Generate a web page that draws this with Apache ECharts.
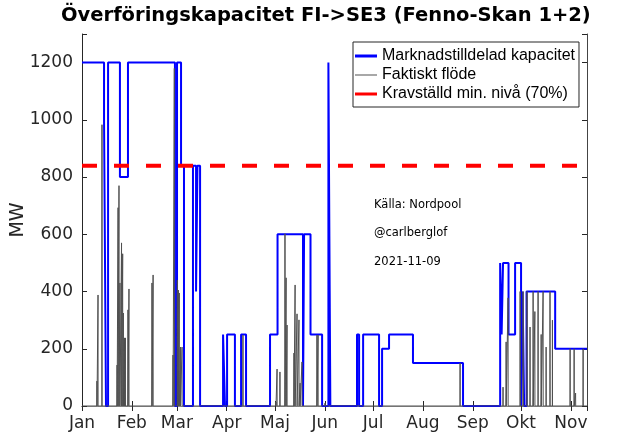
<!DOCTYPE html>
<html>
<head>
<meta charset="utf-8">
<script src="https://cdn.jsdelivr.net/npm/echarts/dist/echarts.min.js"></script>
<style>
  html, body { margin: 0; padding: 0; background: #fff; }
  #main { width: 624px; height: 448px; }
</style>
</head>
<body>
<div id="main"></div>
<script>
// månadsetiketter på x-axeln
var monthLabels = ['Jan', 'Feb', 'Mar', 'Apr', 'Maj', 'Jun', 'Jul', 'Aug', 'Sep', 'Okt', 'Nov', 'Dec'];

// marknadstilldelad kapacitet (MW), gäller från tidpunkten till nästa
var capTimes = [
    '2021-01-01 00:00', '2021-01-14 17:00', '2021-01-15 22:00', '2021-01-17 05:00',
    '2021-01-24 14:00', '2021-01-29 14:00', '2021-02-27 19:00', '2021-03-01 02:00',
    '2021-03-03 14:00', '2021-03-05 10:00', '2021-03-11 00:00', '2021-03-12 22:00',
    '2021-03-13 19:00', '2021-03-15 10:00', '2021-03-29 17:00', '2021-03-30 22:00',
    '2021-04-01 05:00', '2021-04-06 02:00', '2021-04-09 22:00', '2021-04-13 00:00',
    '2021-04-27 22:00', '2021-05-02 14:00', '2021-05-18 10:00', '2021-05-19 02:00',
    '2021-05-23 02:00', '2021-05-30 07:00', '2021-06-03 05:00', '2021-06-04 10:00',
    '2021-06-21 00:00', '2021-06-22 07:00', '2021-06-24 19:00', '2021-07-04 17:00',
    '2021-07-06 14:00', '2021-07-10 22:00', '2021-07-25 19:00', '2021-08-25 22:00',
    '2021-09-18 00:00', '2021-09-18 22:00', '2021-09-19 19:00', '2021-09-23 05:00',
    '2021-09-27 07:00', '2021-10-01 00:00', '2021-10-01 22:00', '2021-10-02 22:00',
    '2021-10-04 10:00', '2021-10-22 05:00', '2021-11-11 00:00'
];
var capValues = [
    1200, 1000, 0, 1200,
    800, 1200, 0, 1200,
    840, 0, 840, 400,
    840, 0, 250, 0,
    250, 0, 250, 0,
    250, 600, 0, 600,
    250, 0, 1200, 0,
    250, 0, 250, 0,
    200, 250, 150, 0,
    500, 250, 500, 250,
    500, 0, 400, 0,
    400, 200, 200
];

// faktiskt flöde (MW), toppar
var flowTimes = [
    '2021-01-10 07:00', '2021-01-10 23:00', '2021-01-13 10:00', '2021-01-22 19:00',
    '2021-01-23 10:00', '2021-01-24 00:00', '2021-01-24 14:00', '2021-01-25 14:00',
    '2021-01-26 07:00', '2021-01-26 17:00', '2021-01-27 10:00', '2021-01-28 00:00',
    '2021-01-29 14:00', '2021-01-30 05:00', '2021-02-13 12:00', '2021-02-14 05:00',
    '2021-02-26 14:00', '2021-02-27 10:00', '2021-03-01 07:00', '2021-03-01 22:00',
    '2021-03-02 12:00', '2021-03-03 05:00', '2021-03-04 05:00', '2021-04-11 02:00',
    '2021-05-01 14:00', '2021-05-02 07:00', '2021-05-04 02:00', '2021-05-07 05:00',
    '2021-05-07 22:00', '2021-05-08 12:00', '2021-05-12 19:00', '2021-05-13 12:00',
    '2021-05-14 17:00', '2021-05-15 22:00', '2021-05-16 14:00', '2021-05-17 19:00',
    '2021-05-27 02:00', '2021-05-27 19:00', '2021-06-01 02:00', '2021-08-24 02:00',
    '2021-09-19 19:00', '2021-09-21 17:00', '2021-09-22 22:00', '2021-09-30 10:00',
    '2021-10-02 06:00', '2021-10-04 18:00', '2021-10-06 14:00', '2021-10-08 12:00',
    '2021-10-09 14:00', '2021-10-11 14:00', '2021-10-13 12:00', '2021-10-14 17:00',
    '2021-10-16 14:00', '2021-10-19 00:00', '2021-10-20 12:00', '2021-10-31 12:00',
    '2021-11-03 00:00', '2021-11-03 22:00', '2021-11-08 14:00'
];
var flowValues = [
    87, 388, 983, 143,
    693, 770, 430, 570,
    532, 325, 238, 238,
    336, 409, 430, 458,
    178, 1180, 440, 405,
    395, 206, 206, 248,
    14, 129, 119, 602,
    448, 283, 185, 423,
    322, 301, 80, 154,
    248, 248, 10, 150,
    66, 224, 378, 400,
    400, 400, 276, 400,
    330, 400, 250, 400,
    206, 400, 300, 200,
    200, 45, 200
];

// kravställd miniminivå (70 %)
var minLevel = 840;

var xMin = '2021-01-01 00:00';
var xMax = '2021-11-11 00:00';

function toMs(s) {
    return new Date(s.replace(' ', 'T')).getTime();
}

var capData = capTimes.map(function (t, i) { return [toMs(t), capValues[i]]; });

// flödet går tillbaka till noll mellan topparna
var hour = 3600 * 1000;
var flowData = [[toMs(xMin), 0]];
for (var i = 0; i < flowTimes.length; i++) {
    var t = toMs(flowTimes[i]);
    flowData.push([t - hour, 0]);
    flowData.push([t, flowValues[i]]);
    flowData.push([t + hour, 0]);
}
flowData.push([toMs(xMax), 0]);

var minData = [[toMs(xMin), minLevel], [toMs(xMax), minLevel]];

var axisColor = '#262626';
var tickFont = 'DejaVu Sans';

var myChart = echarts.init(document.getElementById('main'));
var option = {
    animation: false,
    title: {
        text: 'Överföringskapacitet FI->SE3 (Fenno-Skan 1+2)',
        left: 56,
        top: 1,
        textStyle: { fontFamily: 'DejaVu Sans', fontSize: 19.5, fontWeight: 'bold', color: '#000' }
    },
    legend: {
        orient: 'vertical',
        left: 353,
        top: 42,
        padding: [6, 4, 5, 2],
        itemWidth: 22,
        itemHeight: 14,
        itemGap: 3,
        backgroundColor: '#fff',
        borderColor: axisColor,
        borderWidth: 1,
        textStyle: { fontFamily: 'Liberation Sans', fontSize: 16, color: '#000' },
        data: [
            { name: 'Marknadstilldelad kapacitet', icon: 'path://M0,0H22V3H0Z', itemStyle: { color: '#0000ff' } },
            { name: 'Faktiskt flöde', icon: 'path://M0,0H22V1H0Z', itemStyle: { color: '#505050' } },
            { name: 'Kravställd min. nivå (70%)', icon: 'path://M0,0H22V3H0Z', itemStyle: { color: '#ff0000' } }
        ]
    },
    graphic: [
        { type: 'text', left: 374, top: 199, style: { text: 'Källa: Nordpool', font: '11.5px "DejaVu Sans"', fill: '#000' } },
        { type: 'text', left: 374, top: 227, style: { text: '@carlberglof', font: '11.5px "DejaVu Sans"', fill: '#000' } },
        { type: 'text', left: 374, top: 256, style: { text: '2021-11-09', font: '11.5px "DejaVu Sans"', fill: '#000' } }
    ],
    grid: { left: 82, right: 37, top: 34, bottom: 42, containLabel: false, outerBoundsMode: 'none' },
    xAxis: [{
        type: 'time',
        min: xMin,
        max: xMax,
        splitNumber: 10,
        minInterval: 28 * 24 * hour,
        maxInterval: 31 * 24 * hour,
        axisLine: { lineStyle: { color: axisColor, width: 1 } },
        axisTick: { inside: true, length: 5, lineStyle: { color: axisColor } },
        axisLabel: {
            fontFamily: tickFont,
            fontSize: 17,
            color: axisColor,
            margin: 9,
            formatter: function (v) {
                var d = new Date(v);
                return d.getDate() === 1 ? monthLabels[d.getMonth()] : '';
            }
        },
        splitLine: { show: false }
    }, {
        type: 'time',
        position: 'top',
        min: xMin,
        max: xMax,
        splitNumber: 10,
        minInterval: 28 * 24 * hour,
        maxInterval: 31 * 24 * hour,
        axisLine: { lineStyle: { color: '#808080', width: 1 } },
        axisTick: { inside: true, length: 5, lineStyle: { color: axisColor } },
        axisLabel: { show: false },
        splitLine: { show: false }
    }],
    yAxis: [{
        type: 'value',
        min: 0,
        max: 1300,
        interval: 200,
        name: 'MW',
        nameLocation: 'middle',
        nameGap: 54,
        nameMoveOverlap: false,
        nameTextStyle: { fontFamily: tickFont, fontSize: 19, color: axisColor },
        axisLine: { show: true, lineStyle: { color: axisColor, width: 1 } },
        axisTick: { show: true, inside: true, length: 5, lineStyle: { color: axisColor } },
        axisLabel: {
            fontFamily: tickFont,
            fontSize: 17,
            color: axisColor,
            margin: 9,
            formatter: function (v) { return v % 200 === 0 ? String(v) : ''; }
        },
        splitLine: { show: false }
    }, {
        type: 'value',
        position: 'right',
        min: 0,
        max: 1300,
        interval: 200,
        axisLine: { show: true, lineStyle: { color: '#444', width: 1 } },
        axisTick: { show: true, inside: true, length: 5, lineStyle: { color: axisColor } },
        axisLabel: { show: false },
        splitLine: { show: false }
    }],
    series: [{
        name: 'Marknadstilldelad kapacitet',
        type: 'line',
        step: 'end',
        symbol: 'none',
        data: capData,
        lineStyle: { color: '#0000ff', width: 2 },
        itemStyle: { color: '#0000ff' },
        z: 2
    }, {
        name: 'Faktiskt flöde',
        type: 'line',
        symbol: 'none',
        data: flowData,
        lineStyle: { color: '#505050', width: 1 },
        itemStyle: { color: '#505050' },
        z: 3
    }, {
        name: 'Kravställd min. nivå (70%)',
        type: 'line',
        symbol: 'none',
        data: minData,
        lineStyle: { color: '#ff0000', width: 4, type: [15, 17] },
        itemStyle: { color: '#ff0000' },
        z: 4
    }]
};
myChart.setOption(option);
</script>
</body>
</html>
